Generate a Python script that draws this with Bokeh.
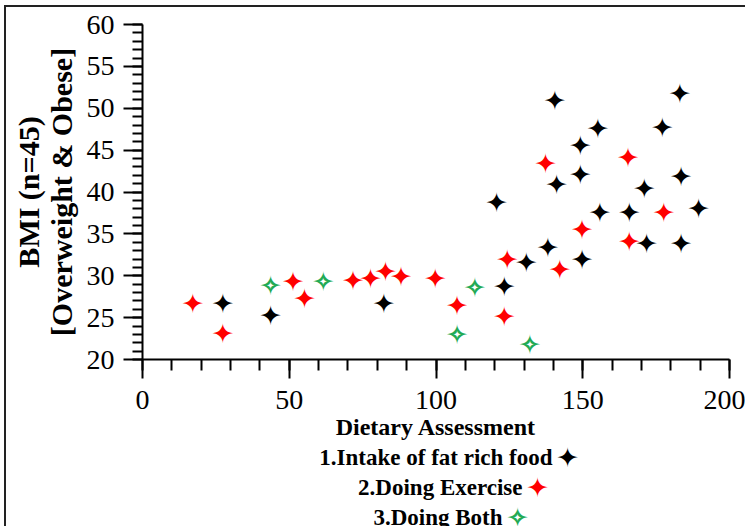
from bokeh.plotting import figure
from bokeh.layouts import column
from bokeh.models import FixedTicker, ColumnDataSource
from bokeh.core.properties import value
from bokeh.embed import file_html
from bokeh.resources import INLINE

# ---- data ----
fat_x = [27.4, 43.6, 82.2, 120.6, 123.3, 130.8, 138.1, 140.5, 141.1, 149.2, 149.2,
         149.8, 155.1, 155.8, 165.9, 171.0, 171.7, 177.1, 183.1, 183.5, 183.5, 189.5]
fat_y = [26.65, 25.26, 26.65, 38.7, 28.7, 31.6, 33.4, 50.9, 40.9, 45.6, 42.1,
         31.9, 47.6, 37.5, 37.6, 40.4, 33.8, 47.7, 51.8, 41.8, 33.8, 38.0]

ex_x = [17.1, 27.4, 51.3, 55.2, 71.7, 77.7, 82.8, 88.1, 99.8, 107.2, 123.3, 124.3,
        137.3, 142.2, 149.8, 165.4, 165.9, 177.6]
ex_y = [26.65, 23.07, 29.3, 27.3, 29.4, 29.7, 30.5, 29.95, 29.7, 26.5, 25.1, 32.0,
        43.45, 30.8, 35.5, 44.1, 34.1, 37.6]

both_x = [43.6, 61.6, 107.2, 113.2, 132.0]
both_y = [28.84, 29.3, 22.99, 28.57, 21.8]

x_ticks = [0, 50, 100, 150, 200]
x_minor = list(range(0, 201, 10))
y_ticks = [20, 25, 30, 35, 40, 45, 50, 55, 60]
y_minor = list(range(20, 61, 1))

series_names = ["1.Intake of fat rich food", "2.Doing Exercise", "3.Doing Both"]
x_title = "Dietary Assessment"
y_title = "BMI (n=45)\n[Overweight & Obese]"

BLACK = "#000000"
RED = "#ff0000"
GREEN = "#22aa55"
STAR = "\u2726"
SERIF = "Liberation Serif"

W = 739
H1 = 436
H2 = 83
FRAME_LEFT, FRAME_RIGHT = 142, 729   # page pixels of the plot frame

p = figure(width=W, height=H1, x_range=(0, 200), y_range=(20, 60),
           output_backend="svg", toolbar_location=None,
           frame_width=FRAME_RIGHT - FRAME_LEFT, frame_height=335,
           min_border_left=136, min_border_right=16,
           min_border_top=17, min_border_bottom=84)
p.outline_line_color = None
p.xgrid.visible = False
p.ygrid.visible = False

for ax in (p.xaxis[0], p.yaxis[0]):
    ax.axis_line_width = 2
    ax.axis_line_color = "black"
    ax.major_tick_line_width = 2
    ax.minor_tick_line_width = 2
    ax.major_tick_line_color = "black"
    ax.minor_tick_line_color = "black"
    ax.major_tick_in = 0
    ax.minor_tick_in = 0
    ax.major_tick_out = 19
    ax.major_label_text_font = SERIF
    ax.major_label_text_font_size = "28px"
    ax.major_label_text_color = "black"
    ax.axis_label_text_font = SERIF
    ax.axis_label_text_font_style = "bold"
    ax.axis_label_text_color = "black"

p.xaxis[0].ticker = FixedTicker(ticks=x_ticks, minor_ticks=x_minor)
p.yaxis[0].ticker = FixedTicker(ticks=y_ticks, minor_ticks=y_minor)
p.xaxis[0].minor_tick_out = 11
p.yaxis[0].minor_tick_out = 10
p.xaxis[0].major_label_standoff = 12
p.yaxis[0].major_label_standoff = 9
p.xaxis[0].axis_label = x_title
p.xaxis[0].axis_label_text_font_size = "24px"
p.xaxis[0].axis_label_standoff = 2
p.yaxis[0].axis_label = y_title
p.yaxis[0].axis_label_text_font_size = "30px"
p.yaxis[0].axis_label_text_line_height = 1.0
p.yaxis[0].axis_label_standoff = 6


def add_series(fig, xs, ys, color, hollow=False):
    src = ColumnDataSource(dict(x=xs, y=ys, t=[STAR] * len(xs)))
    fig.text(x="x", y="y", text="t", source=src, text_color=color,
             text_font=value("DejaVu Sans"), text_font_size="27px",
             text_align="center", text_baseline="middle")
    if hollow:
        fig.text(x="x", y="y", text="t", source=src, text_color="white",
                 text_font=value("DejaVu Sans"), text_font_size="10px",
                 text_align="center", text_baseline="middle")


add_series(p, fat_x, fat_y, BLACK)
add_series(p, ex_x, ex_y, RED)
add_series(p, both_x, both_y, GREEN, hollow=True)

# ---- legend strip below the chart; its frame is aligned with the chart's,
#      so its x range is expressed in page pixels ----
q = figure(width=W, height=H2, x_range=(FRAME_LEFT, FRAME_RIGHT), y_range=(H2, 0),
           output_backend="svg", toolbar_location=None,
           x_axis_location=None, y_axis_location=None,
           min_border=0)
q.outline_line_color = None
q.xgrid.visible = False
q.ygrid.visible = False

row_end = [552, 522, 502]
row_y = [14, 44, 74]
row_colors = [BLACK, RED, GREEN]
q.text(x=row_end, y=row_y, text=series_names, text_align="right",
       text_baseline="middle", text_font=value(SERIF),
       text_font_style="bold", text_font_size="23px", text_color="black")
mk_x = [e + 15 for e in row_end]
q.text(x=mk_x, y=row_y, text=[STAR] * 3, text_align="center",
       text_baseline="middle", text_font=value("DejaVu Sans"),
       text_font_size="27px", text_color=row_colors)
q.text(x=mk_x[2:], y=row_y[2:], text=[STAR], text_align="center",
       text_baseline="middle", text_font=value("DejaVu Sans"),
       text_font_size="10px", text_color="white")

layout = column(p, q, spacing=0,
                styles={"border-top": "2px solid #222", "border-left": "2px solid #222",
                        "margin-left": "4px", "margin-top": "5px"})

open("out.html", "w").write(file_html(layout, INLINE))
